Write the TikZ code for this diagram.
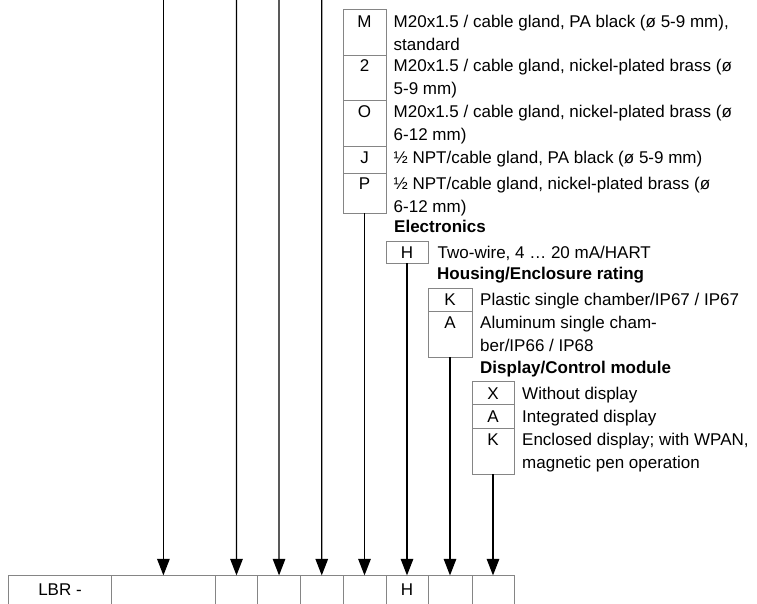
\documentclass[tikz,border=0pt]{standalone}
\usepackage{fontspec}
\setmainfont{Liberation Sans}
\usetikzlibrary{arrows.meta}
\definecolor{boxgray}{HTML}{858585}
\begin{document}
\begin{tikzpicture}[x=1pt,y=-1pt,
  cell/.style={draw=boxgray, line width=0.9pt, anchor=north west, inner sep=0pt, outer sep=0pt},
  code/.style={anchor=base, inner sep=0pt, font=\fontsize{17}{22.8}\selectfont},
  desc/.style={anchor=north west, inner sep=0pt, align=left, font=\fontsize{17}{22.8}\selectfont},
  head/.style={anchor=base west, inner sep=0pt, font=\fontsize{17}{22.8}\selectfont\bfseries},
  conn/.style={line width=1.2pt, -{Triangle[width=12.5pt,length=16.5pt]}}]
\useasboundingbox (0,0) rectangle (757,603);
\clip (0,0) rectangle (757,603);

% ---- M box (cable entry) ----
\node[cell, minimum width=43pt, minimum height=46pt] (cM) at (343,9) {};
\node[cell, minimum width=43pt, minimum height=45pt] (c2) at (343,55) {};
\node[cell, minimum width=43pt, minimum height=46pt] (cO) at (343,100) {};
\node[cell, minimum width=43pt, minimum height=27pt] (cJ) at (343,146) {};
\node[cell, minimum width=43pt, minimum height=40pt] (cP) at (343,173) {};
\node[code] (lM) at (364.5,27.1) {M};
\node[code] (l2) at (364.5,71.1) {2};
\node[code] (lO) at (364.5,117.1) {O};
\node[code] (lJ) at (364.5,163.1) {J};
\node[code] (lP) at (364.5,189.1) {P};
\node[desc] (dM) at (393.5,11.1) {\strut M20x1.5 / cable gland, PA black (ø 5-9 mm),\\standard};
\node[desc] (d2) at (393.5,55.1) {\strut M20x1.5 / cable gland, nickel-plated brass (ø\\5-9 mm)};
\node[desc] (dO) at (393.5,101.1) {\strut M20x1.5 / cable gland, nickel-plated brass (ø\\6-12 mm)};
\node[desc] (dJ) at (393.5,147.1) {\strut ½ NPT/cable gland, PA black (ø 5-9 mm)};
\node[desc] (dP) at (393.5,173.1) {\strut ½ NPT/cable gland, nickel-plated brass (ø\\6-12 mm)};

% ---- Electronics ----
\node[head] (hE) at (394,232.1) {Electronics};
\node[cell, minimum width=42pt, minimum height=21.5pt] (cH) at (386,241.5) {};
\node[code] (lH) at (407,258.1) {H};
\node[desc] (dH) at (437.5,242.1) {\strut Two-wire, 4 … 20 mA/HART};

% ---- Housing ----
\node[head] (hH) at (437,279.1) {Housing/Enclosure rating};
\node[cell, minimum width=44pt, minimum height=23pt] (cK) at (428,288) {};
\node[cell, minimum width=44pt, minimum height=46pt] (cA) at (428,311) {};
\node[code] (lK) at (450,305.6) {K};
\node[code] (lA) at (450,328.6) {A};
\node[desc] (dK) at (480,289.6) {\strut Plastic single chamber/IP67 / IP67};
\node[desc] (dA) at (480,312.6) {\strut Aluminum single cham-\\ber/IP66 / IP68};

% ---- Display ----
\node[head] (hD) at (480,373.1) {Display/Control module};
\node[cell, minimum width=42pt, minimum height=23.5pt] (cX) at (472,381) {};
\node[cell, minimum width=42pt, minimum height=23.5pt] (cDA) at (472,404.5) {};
\node[cell, minimum width=42pt, minimum height=46pt] (cDK) at (472,428) {};
\node[code] (lX) at (493,399.1) {X};
\node[code] (lDA) at (493,422.1) {A};
\node[code] (lDK) at (493,445.1) {K};
\node[desc] (dX) at (522,383.1) {\strut Without display};
\node[desc] (dDA) at (522,406.1) {\strut Integrated display};
\node[desc] (dDK) at (522,429.1) {\strut Enclosed display; with WPAN,\\magnetic pen operation};

% ---- Type code table ----
\node[cell, minimum width=103.4pt, minimum height=40pt] (t0) at (8,575.4) {};
\node[cell, minimum width=104pt, minimum height=40pt] (t1) at (111.4,575.4) {};
\node[cell, minimum width=42.2pt, minimum height=40pt] (t2) at (215.4,575.4) {};
\node[cell, minimum width=42.9pt, minimum height=40pt] (t3) at (257.6,575.4) {};
\node[cell, minimum width=42.5pt, minimum height=40pt] (t4) at (300.5,575.4) {};
\node[cell, minimum width=43pt, minimum height=40pt] (t5) at (343,575.4) {};
\node[cell, minimum width=42pt, minimum height=40pt] (t6) at (386,575.4) {};
\node[cell, minimum width=44pt, minimum height=40pt] (t7) at (428,575.4) {};
\node[cell, minimum width=42pt, minimum height=40pt] (t8) at (472,575.4) {};
\node[code] (tLBR) at (60,595.5) {LBR -};
\node[code] (tH) at (407,595.5) {H};

% ---- connectors ----
\coordinate (s1) at (163.4,-5);
\coordinate (s2) at (236.5,-5);
\coordinate (s3) at (279,-5);
\coordinate (s4) at (321.7,-5);
\draw[conn] (s1) -- (t1.north);
\draw[conn] (s2) -- (t2.north);
\draw[conn] (s3) -- (t3.north);
\draw[conn] (s4) -- (t4.north);
\draw[conn] (cP.south) -- (t5.north);
\draw[conn] (cH.south) -- (t6.north);
\draw[conn] (cA.south) -- (t7.north);
\draw[conn] (cDK.south) -- (t8.north);
\end{tikzpicture}
\end{document}
